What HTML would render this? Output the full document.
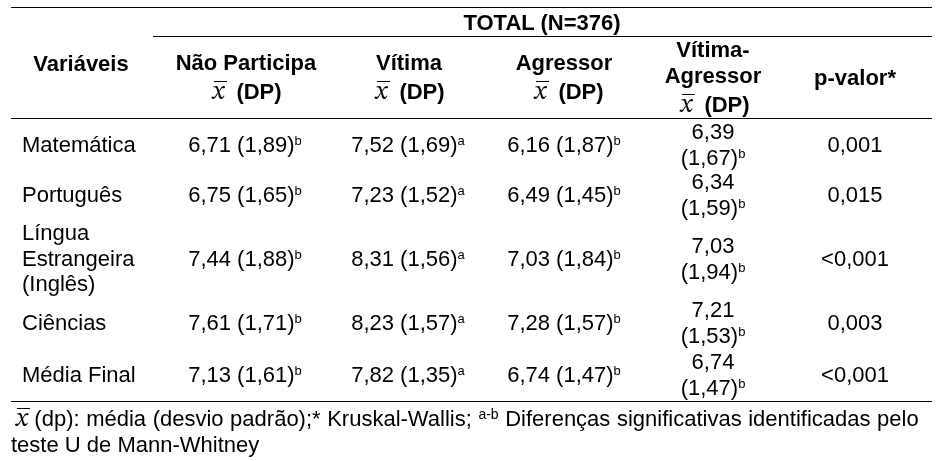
<!DOCTYPE html>
<html><head><meta charset="utf-8">
<style>
html,body{margin:0;padding:0;background:#fff}
body{width:939px;height:461px;overflow:hidden;position:relative;font-family:"Liberation Sans",Arial,sans-serif;font-size:22px;color:#000}
#w{position:absolute;left:0;top:0;width:939px;height:461px;will-change:transform}
.t{position:absolute;white-space:nowrap;line-height:26px;height:26px}
.c{width:240px;text-align:center}
.b{font-weight:bold}
.hl{position:absolute;height:1px;background:#000}
.s{font-size:13px;position:relative;top:-7px;font-weight:normal}
.x{font-family:"STIX Two Text","Liberation Serif","Times New Roman",serif;font-style:italic;font-weight:normal;font-size:26px;line-height:0;position:relative;display:inline-block;width:24px;text-align:left}
.x.f{width:11.8px}
.x.f i{left:1px}
.x i{position:absolute;left:2px;top:-11px;width:13px;height:1px;background:#000}
</style></head><body><div id="w">
<div class="hl" style="left:11px;top:7px;width:921px"></div>
<div class="hl" style="left:153px;top:36px;width:779px"></div>
<div class="hl" style="left:11px;top:118px;width:921px"></div>
<div class="hl" style="left:11px;top:401px;width:921px"></div>
<div class="t c b" style="left:422px;top:10px">TOTAL (N=376)</div>
<div class="t c b" style="left:-39px;top:51px">Variáveis</div>
<div class="t c b" style="left:126px;top:50px">Não Participa</div>
<div class="t c b" style="left:127px;top:79px"><span class="x">x<i></i></span>(DP)</div>
<div class="t c b" style="left:289px;top:50px">Vítima</div>
<div class="t c b" style="left:290px;top:79px"><span class="x">x<i></i></span>(DP)</div>
<div class="t c b" style="left:444px;top:50px">Agressor</div>
<div class="t c b" style="left:449px;top:79px"><span class="x">x<i></i></span>(DP)</div>
<div class="t c b" style="left:593px;top:37px">Vítima-</div>
<div class="t c b" style="left:593px;top:63px">Agressor</div>
<div class="t c b" style="left:595px;top:92px"><span class="x">x<i></i></span>(DP)</div>
<div class="t c b" style="left:735px;top:65px">p-valor*</div>
<div class="t" style="left:22px;top:132px">Matemática</div>
<div class="t c" style="left:125px;top:132px">6,71 (1,89)<span class="s">b</span></div>
<div class="t c" style="left:288px;top:132px">7,52 (1,69)<span class="s">a</span></div>
<div class="t c" style="left:444px;top:132px">6,16 (1,87)<span class="s">b</span></div>
<div class="t c" style="left:593px;top:119px">6,39</div>
<div class="t c" style="left:593px;top:145px">(1,67)<span class="s">b</span></div>
<div class="t c" style="left:735px;top:132px">0,001</div>
<div class="t" style="left:22px;top:182px">Português</div>
<div class="t c" style="left:125px;top:182px">6,75 (1,65)<span class="s">b</span></div>
<div class="t c" style="left:288px;top:182px">7,23 (1,52)<span class="s">a</span></div>
<div class="t c" style="left:444px;top:182px">6,49 (1,45)<span class="s">b</span></div>
<div class="t c" style="left:593px;top:169px">6,34</div>
<div class="t c" style="left:593px;top:195px">(1,59)<span class="s">b</span></div>
<div class="t c" style="left:735px;top:182px">0,015</div>
<div class="t" style="left:22px;top:220px">Língua</div>
<div class="t" style="left:22px;top:246px">Estrangeira</div>
<div class="t" style="left:22px;top:271px">(Inglês)</div>
<div class="t c" style="left:125px;top:246px">7,44 (1,88)<span class="s">b</span></div>
<div class="t c" style="left:288px;top:246px">8,31 (1,56)<span class="s">a</span></div>
<div class="t c" style="left:444px;top:246px">7,03 (1,84)<span class="s">b</span></div>
<div class="t c" style="left:593px;top:233px">7,03</div>
<div class="t c" style="left:593px;top:259px">(1,94)<span class="s">b</span></div>
<div class="t c" style="left:735px;top:246px">&lt;0,001</div>
<div class="t" style="left:22px;top:310px">Ciências</div>
<div class="t c" style="left:125px;top:310px">7,61 (1,71)<span class="s">b</span></div>
<div class="t c" style="left:288px;top:310px">8,23 (1,57)<span class="s">a</span></div>
<div class="t c" style="left:444px;top:310px">7,28 (1,57)<span class="s">b</span></div>
<div class="t c" style="left:593px;top:297px">7,21</div>
<div class="t c" style="left:593px;top:323px">(1,53)<span class="s">b</span></div>
<div class="t c" style="left:735px;top:310px">0,003</div>
<div class="t" style="left:22px;top:362px">Média Final</div>
<div class="t c" style="left:125px;top:362px">7,13 (1,61)<span class="s">b</span></div>
<div class="t c" style="left:288px;top:362px">7,82 (1,35)<span class="s">a</span></div>
<div class="t c" style="left:444px;top:362px">6,74 (1,47)<span class="s">b</span></div>
<div class="t c" style="left:593px;top:349px">6,74</div>
<div class="t c" style="left:593px;top:375px">(1,47)<span class="s">b</span></div>
<div class="t c" style="left:735px;top:362px">&lt;0,001</div>
<div class="t" style="left:16px;top:406px;word-spacing:0.45px"><span class="x f">x<i></i></span> (dp): média (desvio padrão);* Kruskal-Wallis; <span class="s" style="font-size:14px">a-b</span> Diferenças significativas identificadas pelo</div>
<div class="t" style="left:11px;top:432px">teste U de Mann-Whitney</div>
</div></body></html>
